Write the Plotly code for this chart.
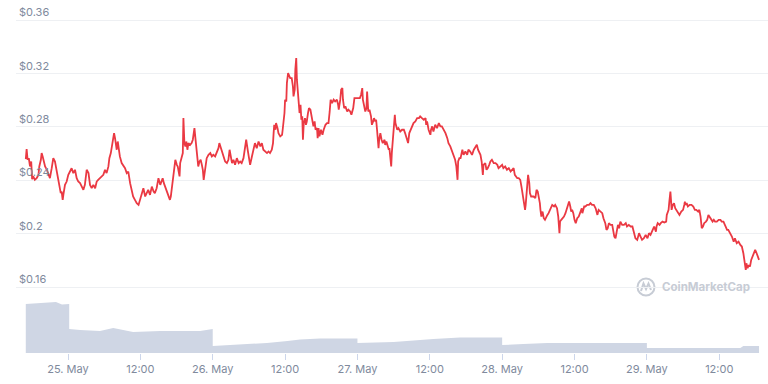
import pandas as pd
import plotly.graph_objects as go

BASE = pd.Timestamp("2021-05-25 00:00")

# price series: hours from 25 May 00:00, price in USD
price_hours = [
    -7.0, -6.86, -6.7, -6.5, -6.3, -6.1, -5.95, -5.76, -5.5, -5.2, -4.9, -4.76, -4.5, -4.37, -4.2, -4.0,
    -3.8, -3.5, -3.26, -3.0, -2.7, -2.44, -2.16, -1.88, -1.6, -1.44, -1.2, -1.05, -0.88, -0.77, -0.5, -0.22,
    0.05, 0.33, 0.6, 0.88, 1.16, 1.44, 1.7, 2.0, 2.27, 2.55, 2.8, 3.1, 3.4, 3.65, 3.93, 4.2, 4.5, 4.76,
    5.0, 5.3, 5.6, 5.86, 6.14, 6.4, 6.7, 6.86, 7.1, 7.4, 7.64, 7.8, 8.08, 8.25, 8.47, 8.6, 8.9, 9.2, 9.46,
    9.74, 10.0, 10.3, 10.6, 10.8, 11.1, 11.4, 11.7,
    12.2, 12.5, 12.8, 13.1, 13.3, 13.6, 13.9, 14.2, 14.4, 14.7, 15.0, 15.3, 15.55, 15.7, 15.9, 16.1, 16.4,
    16.65, 16.9, 17.05, 17.2, 17.5, 17.65, 17.8, 18.05, 18.2, 18.3, 18.5, 18.6, 18.76, 18.9, 19.04, 19.14,
    19.3, 19.47, 19.64, 19.8, 19.97, 20.25, 20.5, 20.7, 20.8, 20.97, 21.1, 21.36, 21.5, 21.6, 21.8, 22.0,
    22.2, 22.36, 22.5, 22.7, 22.86, 23.0, 23.3, 23.6, 23.85, 24.1, 24.4, 24.7, 24.95, 25.1, 25.35, 25.56,
    25.8, 26.06, 26.35, 26.6, 26.8, 27.0, 27.2, 27.44, 27.7, 28.0, 28.3, 28.55, 28.8, 29.1, 29.4, 29.55,
    29.8, 30.0, 30.2, 30.5, 30.8, 31.0, 31.3, 31.6, 31.9, 32.15, 32.4,
    33.0, 33.25, 33.5, 33.8, 34.0, 34.1, 34.2, 34.4, 34.5, 34.75, 34.9, 35.2, 35.5, 35.6, 35.9, 36.0, 36.2,
    36.3, 36.5, 36.6, 36.85, 37.1, 37.3, 37.4, 37.6, 37.7, 37.85, 37.96, 38.1, 38.3, 38.4, 38.56, 38.7,
    38.85, 38.96, 39.1, 39.3, 39.46, 39.6, 39.8, 39.96, 40.2, 40.5, 40.7, 40.9, 41.05, 41.3, 41.4, 41.55,
    41.7, 41.95, 42.2, 42.4, 42.7, 42.95, 43.2, 43.4, 43.55, 43.8, 44.05, 44.3, 44.6, 44.8, 44.9, 45.15,
    45.3, 45.5, 45.6, 45.8, 46.0, 46.3, 46.5, 46.8, 47.0, 47.3, 47.5, 47.75, 48.0, 48.4, 48.6, 48.8, 48.9,
    49.1, 49.3, 49.5, 49.6, 49.8, 50.0, 50.25, 50.4, 50.6, 50.75, 50.96, 51.1, 51.25, 51.35, 51.5, 51.6,
    51.8, 52.0, 52.2,
    52.5, 52.6, 52.8, 53.0, 53.2, 53.3, 53.6, 53.7, 53.9, 54.1, 54.2, 54.3, 54.6, 54.8, 55.1, 55.4, 55.7,
    55.9, 56.2, 56.4, 56.6, 56.8, 57.05, 57.3, 57.6, 57.9, 58.2, 58.4, 58.7, 59.0, 59.3, 59.4, 59.55, 59.8,
    60.1, 60.2, 60.4, 60.6, 60.9, 61.2, 61.5, 61.75, 62.0, 62.3, 62.6, 62.9, 63.1, 63.4, 63.6, 63.8, 63.96,
    64.2, 64.4, 64.6, 64.7, 64.9, 65.1, 65.2, 65.4, 65.6, 65.9, 66.2, 66.4, 66.7, 67.0, 67.3, 67.6, 67.8,
    68.0, 68.2, 68.4, 68.6, 68.7, 68.8, 68.9, 69.2, 69.4, 69.6, 69.85, 70.05, 70.3, 70.6, 70.9, 71.2, 71.4,
    71.7,
    72.0, 72.2, 72.5, 72.8, 73.1, 73.4, 73.65, 73.9, 74.1, 74.25, 74.5, 74.75, 75.0, 75.2, 75.4, 75.6, 75.8,
    75.9, 76.1, 76.3, 76.5, 76.6, 76.8, 77.0, 77.2, 77.5, 77.7, 77.9, 78.1, 78.25, 78.35, 78.5, 78.7, 78.9,
    79.1, 79.3, 79.5, 79.7, 80.0, 80.3, 80.6, 80.8, 81.1, 81.3, 81.5, 81.6, 81.8, 82.0, 82.25, 82.5, 82.8,
    83.0, 83.1, 83.3, 83.45, 83.6, 83.8, 84.0, 84.2, 84.45, 84.7, 85.0, 85.2, 85.3, 85.6, 85.8, 86.1, 86.4,
    86.65, 86.9, 87.2, 87.5, 87.6, 87.8, 88.0, 88.3, 88.6, 88.8, 89.1, 89.3, 89.5, 89.7, 89.97, 90.25, 90.4,
    90.6, 90.8, 91.0, 91.1, 91.2, 91.4, 91.6, 91.9,
    92.2, 92.5, 92.7, 93.0, 93.3, 93.6, 93.85, 94.1, 94.4, 94.7, 94.95, 95.2, 95.5, 95.8, 96.1, 96.35, 96.6,
    96.9, 97.2, 97.5, 97.6, 97.8, 98.1, 98.3, 98.6, 98.9, 99.2, 99.3, 99.6, 99.7, 99.9, 100.0, 100.1, 100.3,
    100.5, 100.7, 100.9, 101.2, 101.4, 101.7, 102.0, 102.2, 102.3, 102.4, 102.6, 102.8, 103.1, 103.4, 103.7,
    103.96, 104.2, 104.5, 104.7, 104.9, 105.1, 105.3, 105.5, 105.8, 106.0, 106.2, 106.4, 106.6, 106.9, 107.1,
    107.3, 107.6, 107.9, 108.2, 108.4, 108.7, 109.0, 109.3, 109.5, 109.8, 110.1, 110.4, 110.6, 110.9, 111.2,
    111.5, 111.75, 112.0, 112.2, 112.4, 112.5, 112.7, 112.9, 113.1, 113.3, 113.5, 113.7, 113.96, 114.2,
    114.4, 114.6,
]

price_usd = [
    0.2558, 0.2633, 0.2553, 0.2565, 0.2503, 0.2540, 0.2408, 0.2428, 0.2403, 0.2415, 0.2440, 0.2503, 0.2553,
    0.2603, 0.2578, 0.2528, 0.2503, 0.2478, 0.2453, 0.2415, 0.2490, 0.2565, 0.2540, 0.2465, 0.2390, 0.2352,
    0.2303, 0.2315, 0.2253, 0.2290, 0.2365, 0.2390,
    0.2440, 0.2465, 0.2490, 0.2453, 0.2478, 0.2415, 0.2390, 0.2378, 0.2352, 0.2328, 0.2365, 0.2478, 0.2453,
    0.2365, 0.2340, 0.2365, 0.2340, 0.2390, 0.2403, 0.2415, 0.2428, 0.2440, 0.2478, 0.2453, 0.2503, 0.2565,
    0.2603, 0.2678, 0.2753, 0.2715, 0.2628, 0.2690, 0.2603, 0.2578, 0.2528, 0.2503, 0.2490, 0.2453, 0.2465,
    0.2378, 0.2328, 0.2278, 0.2253, 0.2228, 0.2215,
    0.2303, 0.2340, 0.2278, 0.2315, 0.2328, 0.2290, 0.2352, 0.2315, 0.2303, 0.2340, 0.2415, 0.2365, 0.2403,
    0.2415, 0.2378, 0.2352, 0.2303, 0.2278, 0.2253, 0.2278, 0.2340, 0.2428, 0.2478, 0.2553, 0.2515, 0.2503,
    0.2478, 0.2428, 0.2528, 0.2553, 0.2578, 0.2603, 0.2865, 0.2678, 0.2653, 0.2690, 0.2628, 0.2678, 0.2665,
    0.2678, 0.2703, 0.2740, 0.2790, 0.2728, 0.2628, 0.2553, 0.2503, 0.2540, 0.2553, 0.2515, 0.2478, 0.2403,
    0.2465, 0.2553, 0.2565, 0.2590, 0.2603, 0.2578, 0.2590, 0.2578, 0.2615, 0.2640, 0.2678, 0.2640, 0.2615,
    0.2590, 0.2540, 0.2528, 0.2553, 0.2628, 0.2565, 0.2528, 0.2553, 0.2515, 0.2565, 0.2528, 0.2540, 0.2528,
    0.2565, 0.2640, 0.2703, 0.2628, 0.2565, 0.2515, 0.2578, 0.2653, 0.2678, 0.2640, 0.2690, 0.2653, 0.2678,
    0.2628,
    0.2603, 0.2615, 0.2603, 0.2628, 0.2678, 0.2753, 0.2815, 0.2778, 0.2828, 0.2790, 0.2753, 0.2728, 0.2740,
    0.2778, 0.2903, 0.3003, 0.2990, 0.3128, 0.3203, 0.3190, 0.3165, 0.3165, 0.3103, 0.3028, 0.3078, 0.3228,
    0.3315, 0.3153, 0.3053, 0.2965, 0.2903, 0.2965, 0.2853, 0.2878, 0.2703, 0.2828, 0.2865, 0.2815, 0.2840,
    0.2903, 0.2940, 0.2928, 0.2853, 0.2803, 0.2840, 0.2778, 0.2790, 0.2715, 0.2790, 0.2728, 0.2778, 0.2740,
    0.2778, 0.2815, 0.2828, 0.2828, 0.2915, 0.3003, 0.2978, 0.3003, 0.2990, 0.3003, 0.2965, 0.2928, 0.3003,
    0.3078, 0.3090, 0.3003, 0.2940, 0.2953, 0.2915, 0.2928, 0.2915, 0.2890, 0.2940, 0.3015, 0.3015, 0.3015,
    0.3015, 0.3040, 0.3090, 0.3003, 0.2965, 0.2915, 0.2940, 0.3065, 0.2915, 0.2928, 0.2878, 0.2815, 0.2840,
    0.2865, 0.2840, 0.2853, 0.2778, 0.2715, 0.2640, 0.2703, 0.2753, 0.2703, 0.2678,
    0.2703, 0.2665, 0.2690, 0.2653, 0.2628, 0.2640, 0.2503, 0.2603, 0.2703, 0.2803, 0.2890, 0.2828, 0.2778,
    0.2790, 0.2765, 0.2778, 0.2778, 0.2753, 0.2715, 0.2678, 0.2753, 0.2778, 0.2803, 0.2828, 0.2840, 0.2865,
    0.2865, 0.2878, 0.2865, 0.2853, 0.2865, 0.2815, 0.2840, 0.2778, 0.2740, 0.2778, 0.2803, 0.2765, 0.2815,
    0.2790, 0.2828, 0.2803, 0.2803, 0.2778, 0.2753, 0.2715, 0.2678, 0.2653, 0.2628, 0.2603, 0.2590, 0.2553,
    0.2503, 0.2403, 0.2540, 0.2565, 0.2565, 0.2590, 0.2628, 0.2590, 0.2615, 0.2590, 0.2628, 0.2615, 0.2590,
    0.2628, 0.2653, 0.2665, 0.2628, 0.2603, 0.2590, 0.2540, 0.2478, 0.2440, 0.2515, 0.2528, 0.2478, 0.2490,
    0.2515, 0.2540, 0.2553, 0.2528, 0.2528, 0.2515, 0.2490, 0.2503,
    0.2515, 0.2490, 0.2503, 0.2478, 0.2490, 0.2465, 0.2478, 0.2490, 0.2440, 0.2428, 0.2415, 0.2415, 0.2403,
    0.2352, 0.2303, 0.2253, 0.2178, 0.2215, 0.2328, 0.2440, 0.2378, 0.2303, 0.2278, 0.2278, 0.2278, 0.2265,
    0.2328, 0.2315, 0.2278, 0.2228, 0.2178, 0.2128, 0.2165, 0.2115, 0.2103, 0.2128, 0.2140, 0.2153, 0.2190,
    0.2215, 0.2203, 0.2215, 0.2190, 0.2128, 0.2003, 0.2090, 0.2103, 0.2115, 0.2128, 0.2153, 0.2190, 0.2228,
    0.2240, 0.2203, 0.2165, 0.2178, 0.2153, 0.2103, 0.2078, 0.2115, 0.2128, 0.2165, 0.2190, 0.2153, 0.2203,
    0.2203, 0.2215, 0.2215, 0.2228, 0.2215, 0.2215, 0.2190, 0.2165, 0.2140, 0.2178, 0.2165, 0.2153, 0.2115,
    0.2078, 0.2028, 0.2040, 0.2078, 0.2065, 0.2065, 0.2015, 0.1978, 0.1965, 0.2015, 0.2040, 0.2065, 0.2040,
    0.2090, 0.2065,
    0.2065, 0.2078, 0.2053, 0.2065, 0.2053, 0.2053, 0.2015, 0.1965, 0.1953, 0.2003, 0.1978, 0.1953, 0.1965,
    0.1990, 0.1965, 0.2003, 0.1990, 0.2028, 0.2053, 0.2015, 0.2053, 0.2078, 0.2065, 0.2078, 0.2090, 0.2083,
    0.2090, 0.2140, 0.2178, 0.2228, 0.2315, 0.2253, 0.2178, 0.2215, 0.2228, 0.2190, 0.2178, 0.2153, 0.2140,
    0.2165, 0.2178, 0.2215, 0.2240, 0.2215, 0.2228, 0.2203, 0.2215, 0.2215, 0.2203, 0.2178, 0.2178, 0.2165,
    0.2178, 0.2128, 0.2040, 0.2053, 0.2078, 0.2090, 0.2103, 0.2140, 0.2128, 0.2115, 0.2090, 0.2103, 0.2090,
    0.2090, 0.2103, 0.2103, 0.2090, 0.2090, 0.2053, 0.2028, 0.2028, 0.2003, 0.1978, 0.1940, 0.1965, 0.1928,
    0.1940, 0.1915, 0.1903, 0.1853, 0.1765, 0.1728, 0.1778, 0.1740, 0.1765, 0.1753, 0.1803, 0.1828, 0.1853,
    0.1878, 0.1853, 0.1828, 0.1803,
]

# volume (USD millions), hours from 25 May 00:00
volume_hours = [-7.0, -4.0, -2.0, -1.0, 0.2, 0.2, 2.0, 5.3, 7.5, 10.8, 15.3, 21.9, 24.0, 24.0, 27.9, 33.0,
                36.4, 38.5, 41.8, 48.0, 48.0, 54.0, 60.6, 65.0, 72.0, 72.0, 75.5, 79.5, 96.0, 96.0, 111.5,
                112.0, 114.6]
volume_musd = [98, 100, 102, 97, 98, 48, 46, 44, 50, 42, 44, 44, 48, 14, 16, 20,
               24, 27, 29, 29, 20, 22, 28, 31, 31, 16, 18, 20, 20, 10, 10,
               14, 14]

tick_hours = [0, 12, 24, 36, 48, 60, 72, 84, 96, 108]
tick_labels = ["25. May", "12:00", "26. May", "12:00", "27. May", "12:00",
               "28. May", "12:00", "29. May", "12:00"]

price_ticks = [0.16, 0.2, 0.24, 0.28, 0.32, 0.36]
price_tick_labels = ["$0.16", "$0.2", "$0.24", "$0.28", "$0.32", "$0.36"]


def to_time(hours):
    return [BASE + pd.Timedelta(hours=h) for h in hours]


W, H = 768, 384
L, R, T, B = 16, 0, 5, 31
PW, PH = W - L - R, H - T - B
PX_PER_HOUR = 6.03


def px(x):
    return (x - L) / PW


def py(y):
    return (H - B - y) / PH


fig = go.Figure()

fig.add_trace(go.Scatter(
    x=to_time(volume_hours), y=volume_musd, yaxis="y2",
    mode="lines", line=dict(width=0, color="#cfd6e4"),
    fill="tozeroy", fillcolor="#cfd6e4", hoverinfo="skip",
))

fig.add_trace(go.Scatter(
    x=to_time(price_hours), y=price_usd,
    mode="lines", line=dict(color="#ea3943", width=1.8),
))

x_left = BASE + pd.Timedelta(hours=(L - 68) / PX_PER_HOUR)
x_right = BASE + pd.Timedelta(hours=(W - 68) / PX_PER_HOUR)

font_family = "Inter, 'Open Sans', sans-serif"

fig.update_layout(
    width=W, height=H,
    margin=dict(l=L, r=R, t=T, b=B),
    paper_bgcolor="white", plot_bgcolor="white",
    showlegend=False,
    font=dict(family=font_family, size=11, color="#808a9d"),
    xaxis=dict(
        type="date", range=[x_left, x_right],
        tickvals=to_time(tick_hours), ticktext=tick_labels,
        ticks="outside", ticklen=6, tickcolor="#ccd6eb", tickwidth=1,
        showgrid=False, zeroline=False, showline=False,
        tickfont=dict(size=11, color="#808a9d"),
    ),
    yaxis=dict(
        range=[0.11056, 0.37124],
        tickvals=price_ticks, ticktext=price_tick_labels,
        ticklabelposition="inside top",
        showgrid=True, gridcolor="#eef0f3", gridwidth=1,
        zeroline=False, showline=False, ticks="",
        tickfont=dict(size=11, color="#808a9d"),
    ),
    yaxis2=dict(
        overlaying="y", range=[0, 696], visible=False, showgrid=False,
    ),
)

# CoinMarketCap watermark
fig.add_shape(type="rect", xref="paper", yref="paper",
              x0=px(633), x1=px(756), y0=py(297), y1=py(278),
              fillcolor="white", line=dict(width=0), layer="between")
fig.add_shape(type="circle", xref="paper", yref="paper",
              x0=px(637.5), x1=px(654.5), y0=py(295.5), y1=py(278.5),
              line=dict(color="#c7ccd5", width=2), fillcolor="white", layer="between")
path = "M {:.4f} {:.4f} L {:.4f} {:.4f} L {:.4f} {:.4f} L {:.4f} {:.4f} L {:.4f} {:.4f}".format(
    px(641), py(291), px(643.5), py(283.5), px(646), py(289), px(648.5), py(283.5), px(651), py(290))
fig.add_shape(type="path", xref="paper", yref="paper", path=path,
              line=dict(color="#c7ccd5", width=2), layer="between")
fig.add_annotation(xref="paper", yref="paper", x=px(660), y=py(287),
                   xanchor="left", yanchor="middle", showarrow=False,
                   text="<b>CoinMarketCap</b>",
                   font=dict(family=font_family, size=11.5, color="#c7ccd5"))

fig.write_html("out.html", config={"displayModeBar": False},
               post_script="document.body.style.margin='0';")
